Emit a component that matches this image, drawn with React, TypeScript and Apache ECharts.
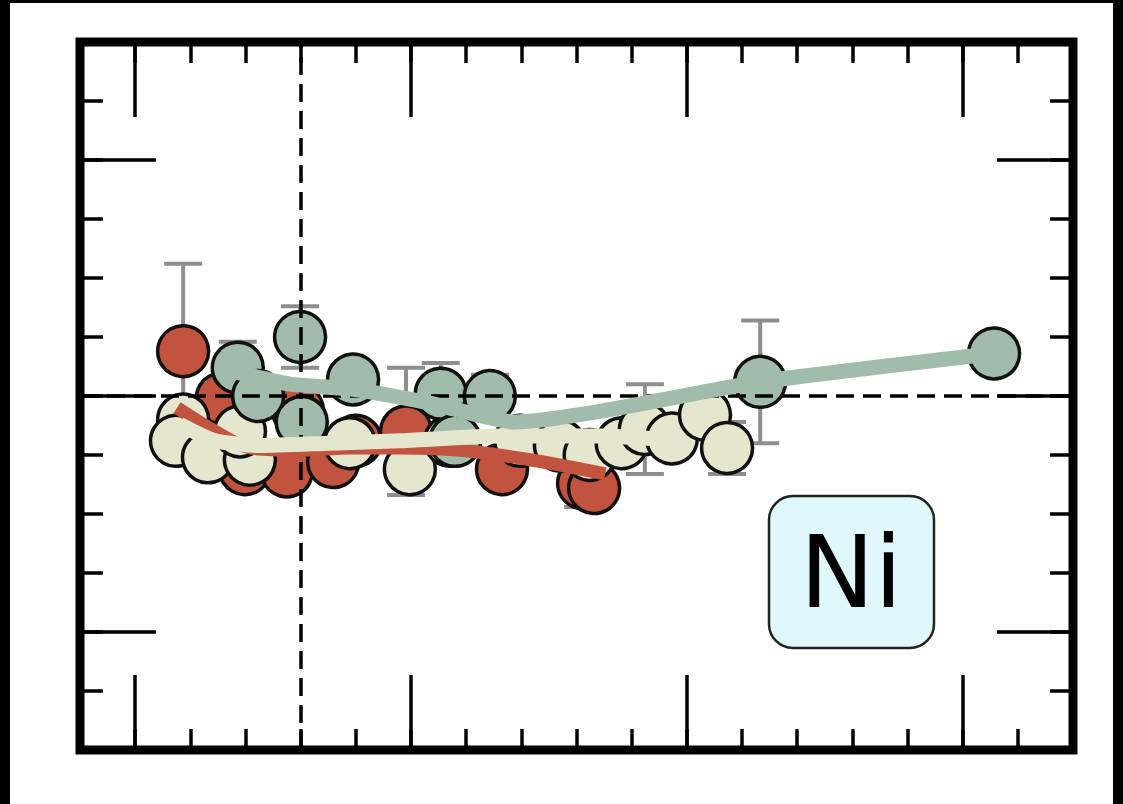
import { useEffect, useRef } from "react";
import * as echarts from "echarts";

// Axis extents and ticks
const xMin = 0;
const xMax = 18;
const xStep = 1;
const xMajorTicks = [1, 6, 11, 16];
const yMin = -1.5;
const yMax = 1.5;
const yStep = 0.25;
const yMajorTicks = [-1, 0, 1];
const refX = 4;
const refY = 0;

// Red group: individual points (with optional symmetric error) and trend
const redX = [1.87, 2.57, 2.99, 3.75, 3.95, 4.59, 5.0, 5.91, 7.65, 9.12, 9.32];
const redY = [0.19, -0.01, -0.31, -0.32, -0.06, -0.28, -0.19, -0.15, -0.31, -0.37, -0.39];
const redErr = [0.37, null, null, null, null, null, null, 0.27, null, 0.1, null];
const redTrendX = [1.76, 2.45, 3.08, 3.99, 4.89, 5.8, 6.89, 8.16, 9.52];
const redTrendY = [-0.05, -0.15, -0.22, -0.23, -0.22, -0.22, -0.23, -0.27, -0.33];

// Cream group
const creamX = [1.87, 1.74, 2.32, 3.08, 2.9, 4.89, 5.98, 6.71, 7.98, 8.7, 9.24, 9.82, 10.24, 10.73, 11.33, 11.73];
const creamY = [-0.1, -0.19, -0.26, -0.27, -0.15, -0.2, -0.31, -0.19, -0.19, -0.21, -0.25, -0.2, -0.14, -0.18, -0.08, -0.22];
const creamErr = [null, null, null, null, null, null, null, null, null, null, null, null, 0.19, null, null, 0.11];
const creamTrendX = [1.81, 2.45, 3.26, 4.53, 5.8, 7.61, 9.43, 10.33];
const creamTrendY = [-0.12, -0.19, -0.21, -0.2, -0.19, -0.17, -0.17, -0.18];

// Green group
const greenX = [2.86, 3.23, 3.99, 4.02, 4.95, 6.54, 7.43, 6.8, 12.33, 16.57];
const greenY = [0.12, 0.0, 0.25, -0.11, 0.07, 0.01, 0.0, -0.19, 0.06, 0.18];
const greenErr = [0.11, null, 0.13, null, null, 0.13, 0.09, null, 0.26, null];
const greenTrendX = [2.86, 3.81, 4.89, 6.34, 7.88, 12.33, 16.57];
const greenTrendY = [0.1, 0.05, 0.03, -0.03, -0.11, 0.06, 0.18];

const RED = "#c1533f";
const CREAM = "#e5e6ce";
const GREEN = "#a1bcaa";
const ERR_GREY = "#8e8e8e";

const pairs = (xs: number[], ys: number[]) => xs.map((x, i) => [x, ys[i]]);

const errRows = (xs: number[], ys: number[], es: (number | null)[]) =>
  xs
    .map((x, i) => (es[i] == null ? null : [x, ys[i] - (es[i] as number), ys[i] + (es[i] as number)]))
    .filter((r) => r !== null) as number[][];

export default function App() {
  const ref = useRef<HTMLDivElement>(null);

  useEffect(() => {
    if (!ref.current) return;
    const chart = echarts.init(ref.current, null, { renderer: "svg" });

    const tickStyle = { color: "#000", width: 3.5 };

    const xAxisBase = {
      type: "value",
      min: xMin,
      max: xMax,
      interval: xStep,
      axisLine: { show: false, onZero: false },
      axisLabel: { show: false },
      splitLine: { show: false },
    };
    const yAxisBase = {
      type: "value",
      min: yMin,
      max: yMax,
      interval: yStep,
      axisLine: { show: false, onZero: false },
      axisLabel: { show: false },
      splitLine: { show: false },
    };
    const minorX = { show: true, inside: true, length: 21, lineStyle: tickStyle };
    const majorX = { show: true, inside: true, length: 75, customValues: xMajorTicks, lineStyle: tickStyle };
    const minorY = { show: true, inside: true, length: 23, lineStyle: tickStyle };
    const majorY = { show: true, inside: true, length: 76, customValues: yMajorTicks, lineStyle: tickStyle };

    const errorSeries = (rows: number[][]) => ({
      type: "custom",
      z: 1,
      silent: true,
      xAxisIndex: 0,
      yAxisIndex: 0,
      encode: { x: 0, y: [1, 2] },
      data: rows,
      renderItem: (_params: any, api: any) => {
        const x = api.value(0);
        const top = api.coord([x, api.value(2)]);
        const bot = api.coord([x, api.value(1)]);
        const hw = 19;
        const st = { stroke: ERR_GREY, lineWidth: 4 };
        return {
          type: "group",
          children: [
            { type: "line", shape: { x1: top[0], y1: top[1], x2: bot[0], y2: bot[1] }, style: st },
            { type: "line", shape: { x1: top[0] - hw, y1: top[1], x2: top[0] + hw, y2: top[1] }, style: st },
            { type: "line", shape: { x1: bot[0] - hw, y1: bot[1], x2: bot[0] + hw, y2: bot[1] }, style: st },
          ],
        };
      },
    });

    const dotSeries = (xs: number[], ys: number[], color: string) => ({
      type: "scatter",
      z: 2,
      xAxisIndex: 0,
      yAxisIndex: 0,
      symbol: "circle",
      symbolSize: 51,
      silent: true,
      itemStyle: { color, borderColor: "#111", borderWidth: 3.5, opacity: 1 },
      emphasis: { disabled: true },
      data: pairs(xs, ys),
    });

    const trendSeries = (xs: number[], ys: number[], color: string, width: number, smooth: number) => ({
      type: "line",
      z: 6,
      xAxisIndex: 0,
      yAxisIndex: 0,
      silent: true,
      symbol: "none",
      showSymbol: false,
      smooth,
      lineStyle: { color, width, cap: "butt", join: "round", opacity: 1 },
      emphasis: { disabled: true },
      data: pairs(xs, ys),
    });

    chart.setOption({
      animation: false,
      backgroundColor: "#ffffff",
      grid: {
        left: 80,
        top: 42,
        right: 50,
        bottom: 54,
        show: true,
        borderColor: "#000",
        borderWidth: 9,
        backgroundColor: "transparent",
      },
      xAxis: [
        { ...xAxisBase, position: "bottom", axisTick: minorX },
        { ...xAxisBase, position: "bottom", axisTick: majorX },
        { ...xAxisBase, position: "top", axisTick: minorX },
        { ...xAxisBase, position: "top", axisTick: majorX },
      ],
      yAxis: [
        { ...yAxisBase, position: "left", axisTick: minorY },
        { ...yAxisBase, position: "left", axisTick: majorY },
        { ...yAxisBase, position: "right", axisTick: minorY },
        { ...yAxisBase, position: "right", axisTick: majorY },
      ],
      series: [
        errorSeries([...errRows(redX, redY, redErr), ...errRows(creamX, creamY, creamErr), ...errRows(greenX, greenY, greenErr)]),
        dotSeries(redX, redY, RED),
        dotSeries(creamX, creamY, CREAM),
        dotSeries(greenX, greenY, GREEN),
        {
          type: "line",
          z: 3,
          xAxisIndex: 0,
          yAxisIndex: 0,
          data: [],
          silent: true,
          markLine: {
            z: 4,
            silent: true,
            symbol: "none",
            label: { show: false },
            lineStyle: { color: "#000", width: 3.5, type: [18, 9] },
            emphasis: { disabled: true },
            data: [{ xAxis: refX }, { yAxis: refY }],
          },
        },
        trendSeries(redTrendX, redTrendY, RED, 13, 0.3),
        trendSeries(creamTrendX, creamTrendY, CREAM, 15, 0.2),
        trendSeries(greenTrendX, greenTrendY, GREEN, 15, 0.2),
      ],
      graphic: [
        { type: "rect", left: 0, top: 0, shape: { width: 10, height: 804 }, style: { fill: "#000" }, z: 100 },
        { type: "rect", left: 0, top: 0, shape: { width: 1123, height: 3 }, style: { fill: "#000" }, z: 100 },
        { type: "rect", left: 1113, top: 0, shape: { width: 10, height: 804 }, style: { fill: "#000" }, z: 100 },
        {
          type: "rect",
          x: 769,
          y: 496,
          shape: { width: 165, height: 152, r: 24 },
          style: { fill: "#e0f8fb", stroke: "#222", lineWidth: 2.5 },
          z: 50,
        },
        {
          type: "text",
          x: 851,
          y: 572,
          style: {
            text: "Ni",
            fill: "#000",
            font: '100px "DejaVu Sans"',
            align: "center",
            verticalAlign: "middle",
          },
          z: 51,
        },
      ],
    });

    return () => chart.dispose();
  }, []);

  return (
    <div
      ref={ref}
      style={{ position: "absolute", left: 0, top: 0, width: 1123, height: 804, background: "#fff" }}
    />
  );
}
